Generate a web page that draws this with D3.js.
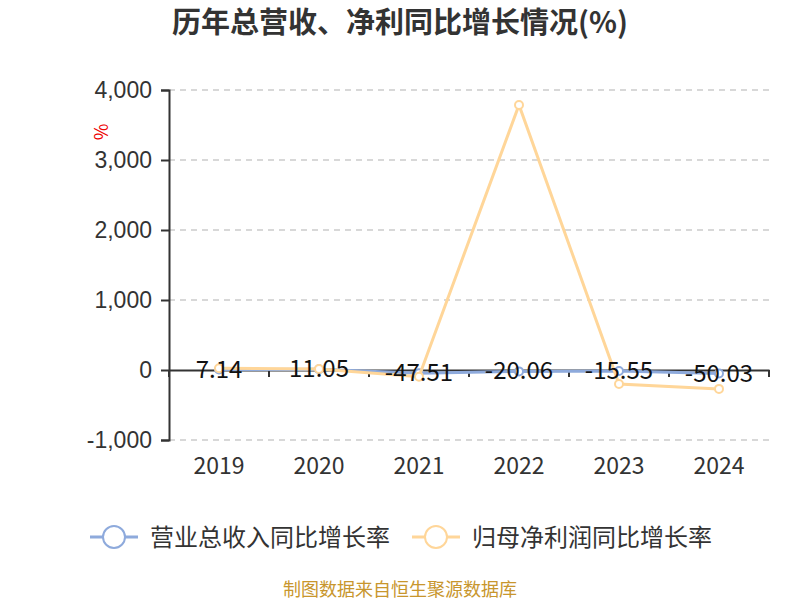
<!DOCTYPE html>
<html><head><meta charset="utf-8">
<script src="https://cdn.jsdelivr.net/npm/d3@7/dist/d3.min.js"></script>
<style>body{margin:0;background:#fff;}svg{font-family:"Noto Sans CJK SC","Noto Sans",sans-serif;}</style>
</head><body>
<svg id="c" width="800" height="600"></svg>
<script>
const categories = ["2019","2020","2021","2022","2023","2024"];
const revenueGrowth = [7.14, 11.05, -47.51, -20.06, -15.55, -50.03];
const profitGrowth = [25, 15, -95, 3786, -200, -270];
const yTicks = [-1000, 0, 1000, 2000, 3000, 4000];
const seriesNames = ["营业总收入同比增长率", "归母净利润同比增长率"];
const colors = ["#8eaadc", "#ffd699"];

(function () {
const svg = d3.select("#c");
const pLeft = 169, pRight = 769, pTop = 90, pBottom = 440;
const x = d3.scaleBand().domain(categories).range([pLeft, pRight]);
const y = d3.scaleLinear().domain([-1000, 4000]).range([pBottom, pTop]);
const fmt = d => d3.format(",")(d).replace("−", "-");

svg.append("text").attr("x", 400).attr("y", 33).attr("text-anchor", "middle")
  .attr("font-size", 29).attr("font-weight", "bold").attr("fill", "#333")
  .text("历年总营收、净利同比增长情况(%)");

// grid
svg.append("g").selectAll("line").data(yTicks.filter(d => d !== 0)).join("line")
  .attr("x1", pLeft).attr("x2", pRight).attr("y1", d => y(d)).attr("y2", d => y(d))
  .attr("stroke", "#ccc").attr("stroke-width", 1.5).attr("stroke-dasharray", "6,5");

// y axis
const ya = svg.append("g").attr("transform", `translate(${pLeft},0)`)
  .call(d3.axisLeft(y).tickValues(yTicks).tickSize(8).tickPadding(9).tickFormat(fmt));
ya.select(".domain").attr("stroke", "#333").attr("stroke-width", 2);
ya.selectAll(".tick line").attr("stroke", "#333").attr("stroke-width", 2);
ya.selectAll("text").attr("font-size", 23).attr("fill", "#333").attr("font-family", "inherit");

svg.append("text").attr("transform", "translate(108,132) rotate(-90)")
  .attr("text-anchor", "middle").attr("font-size", 18).attr("fill", "#e00").text("%");

// x axis at zero
const xa = svg.append("g").attr("transform", `translate(0,${y(0)})`)
  .call(d3.axisBottom(x).tickSize(0).tickFormat(""));
xa.select(".domain").attr("stroke", "#333").attr("stroke-width", 2);
const bounds = categories.map(c => x(c)).concat([pRight]);
svg.append("g").selectAll("line").data(bounds).join("line")
  .attr("x1", d => d).attr("x2", d => d).attr("y1", y(0)).attr("y2", y(0) + 7)
  .attr("stroke", "#333").attr("stroke-width", 2);
svg.append("g").selectAll("text").data(categories).join("text")
  .attr("x", d => x(d) + x.bandwidth() / 2).attr("y", 474).attr("text-anchor", "middle")
  .attr("font-size", 23).attr("fill", "#333").text(d => d);

const cx = c => x(c) + x.bandwidth() / 2;
const line = d3.line().x((d, i) => cx(categories[i])).y(d => y(d));
[revenueGrowth, profitGrowth].forEach((arr, k) => {
  svg.append("path").datum(arr).attr("d", line).attr("fill", "none")
    .attr("stroke", colors[k]).attr("stroke-width", 3);
  svg.append("g").selectAll("circle").data(arr).join("circle")
    .attr("cx", (d, i) => cx(categories[i])).attr("cy", d => y(d)).attr("r", 4)
    .attr("fill", "#fff").attr("stroke", colors[k]).attr("stroke-width", 2);
});

svg.append("g").selectAll("text").data(revenueGrowth).join("text")
  .attr("x", (d, i) => cx(categories[i])).attr("y", d => y(d) + 8)
  .attr("text-anchor", "middle").attr("font-size", 24).attr("fill", "#111")
  .text(d => d.toFixed(2));

// legend
const lg = [{x: 90, tx: 150}, {x: 412, tx: 472}];
lg.forEach((p, k) => {
  svg.append("line").attr("x1", p.x).attr("x2", p.x + 48).attr("y1", 537).attr("y2", 537)
    .attr("stroke", colors[k]).attr("stroke-width", 3);
  svg.append("circle").attr("cx", p.x + 24).attr("cy", 537).attr("r", 11)
    .attr("fill", "#fff").attr("stroke", colors[k]).attr("stroke-width", 2);
  svg.append("text").attr("x", p.tx).attr("y", 546).attr("font-size", 24).attr("fill", "#333")
    .text(seriesNames[k]);
});

svg.append("text").attr("x", 400).attr("y", 596).attr("text-anchor", "middle")
  .attr("font-size", 18).attr("fill", "#c8962d").text("制图数据来自恒生聚源数据库");
})();
</script>
</body></html>
